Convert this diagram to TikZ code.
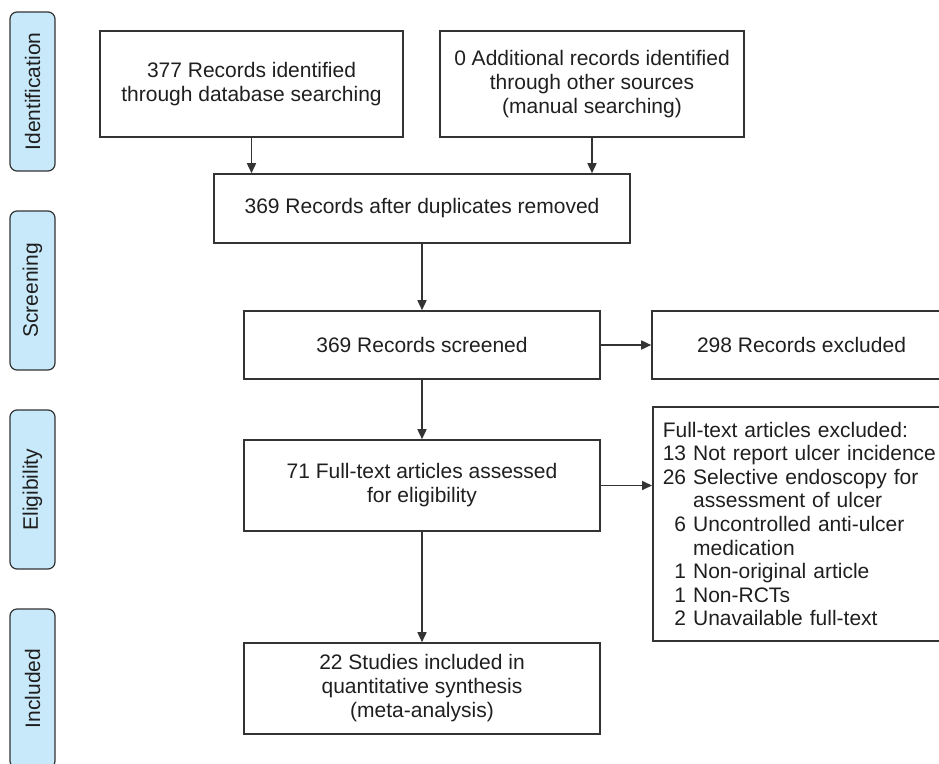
\documentclass[tikz,border=0pt]{standalone}
\usepackage{fontspec}
\setmainfont{Liberation Sans}
\usepackage{tikz}
\usetikzlibrary{arrows.meta, calc, positioning}

\definecolor{linegrey}{HTML}{333333}
\definecolor{tabblue}{HTML}{C8E9F9}
\newcommand{\nexc}[1]{\makebox[1.112em][r]{#1}\ }

\begin{document}
\begin{tikzpicture}[x=1pt, y=-1pt,
  every node/.style={font=\fontsize{21}{24}\selectfont, text=black!88},
  flowbox/.style={draw=linegrey, line width=1.6pt, align=center, inner sep=0pt},
  phasetab/.style={draw=linegrey, fill=tabblue, line width=1.2pt, rounded corners=7pt,
    rotate=90, minimum width=159pt, minimum height=45pt, inner sep=0pt},
  arr/.style={draw=linegrey, line width=1.6pt, -{Triangle[length=10pt,width=9pt]}}]
\useasboundingbox (0,0) rectangle (939,763);

% phase tabs
\node (tabid) [phasetab] at (32.5,91.5) {Identification};
\node (tabscr) [phasetab] at (32.5,290.5) {Screening};
\node (tabel) [phasetab] at (32.5,489.5) {Eligibility};
\node (tabinc) [phasetab] at (32.5,688.5) {Included};

% boxes
\node (dbrec) [flowbox, minimum width=303pt, minimum height=106pt] at (251.5,84) {377 Records identified\\through database searching};
\node (otherrec) [flowbox, minimum width=304pt, minimum height=106pt] at (592,84) {0 Additional records identified\\through other sources\\(manual searching)};
\node (dedup) [flowbox, minimum width=416pt, minimum height=69pt] at (422,208.5) {369 Records after duplicates removed};
\node (screened) [flowbox, minimum width=356pt, minimum height=68pt] at (422,345) {369 Records screened};
\node (recexc) [flowbox, minimum width=299pt, minimum height=68pt] at (801.5,345) {298 Records excluded};
\node (fulltext) [flowbox, minimum width=356pt, minimum height=91pt] at (422,485.5) {71 Full-text articles assessed\\for eligibility};
\node (ftexc) [flowbox, anchor=west, align=left, text width=280pt, inner xsep=10pt,
  minimum height=234pt, font=\fontsize{21}{23.6}\selectfont] at (652,524) {Full-text articles excluded:\\
\nexc{13}Not report ulcer incidence\\
\nexc{26}Selective endoscopy for\\
\nexc{}assessment of ulcer\\
\nexc{6}Uncontrolled anti-ulcer\\
\nexc{}medication\\
\nexc{1}Non-original article\\
\nexc{1}Non-RCTs\\
\nexc{2}Unavailable full-text};
\node (studies) [flowbox, minimum width=356pt, minimum height=91pt] at (422,688.5) {22 Studies included in\\quantitative synthesis\\(meta-analysis)};

% arrows
\draw [arr] (dbrec.south) -- (dbrec.south |- dedup.north);
\draw [arr] (otherrec.south) -- (otherrec.south |- dedup.north);
\draw [arr] (dedup) -- (screened);
\draw [arr] (screened) -- (recexc);
\draw [arr] (screened) -- (fulltext);
\draw [arr] (fulltext.east) -- (fulltext.east -| ftexc.west);
\draw [arr] (fulltext) -- (studies);
\end{tikzpicture}
\end{document}
